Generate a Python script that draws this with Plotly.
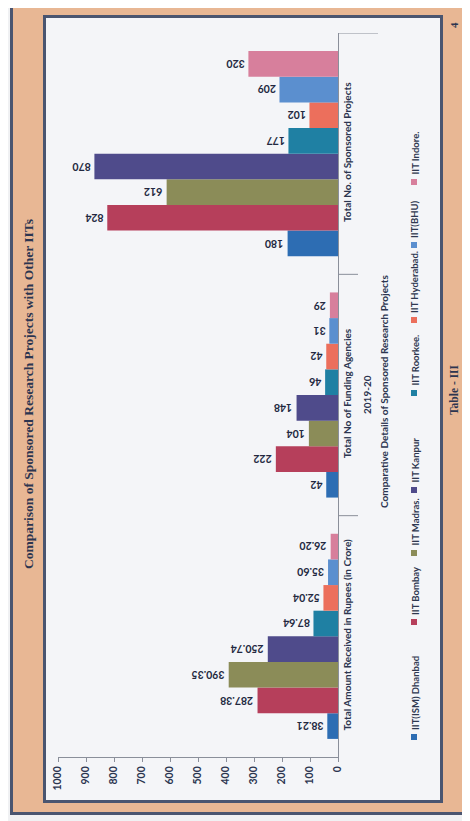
import plotly.graph_objects as go

# ---------------- data ----------------
categories = [
    "Total Amount Received in Rupees (in Crore)",
    "Total No of Funding Agencies",
    "Total No. of Sponsored Projects",
]
institutes = ["IIT(ISM) Dhanbad", "IIT Bombay", "IIT Madras.", "IIT Kanpur",
              "IIT Roorkee.", "IIT Hyderabad.", "IIT(BHU)", "IIT Indore."]
dhanbad = [38.21, 42, 180]
bombay = [287.38, 222, 824]
madras = [390.35, 104, 612]
kanpur = [250.74, 148, 870]
roorkee = [87.64, 46, 177]
hyderabad = [52.04, 42, 102]
bhu = [35.60, 31, 209]
indore = [26.20, 29, 320]
series = [dhanbad, bombay, madras, kanpur, roorkee, hyderabad, bhu, indore]
value_ticks = [0, 100, 200, 300, 400, 500, 600, 700, 800, 900, 1000]

colors = ["#2d6db3", "#b63f5b", "#8b8c58", "#4f4b8b", "#1f80a3",
          "#ec6f5c", "#5b8fcf", "#d77f9c"]

# ---------------- geometry helpers (page pixel -> paper) ----------------
PAGE_W, PAGE_H = 470, 821
OFF = 8                       # default body margin of the html page
FW, FH = PAGE_W - OFF, PAGE_H - OFF
L, R, T, B = 58, 338, 33, 757  # plot area in page pixels
W, H = R - L, B - T


def px(x):
    return (x - L) / W


def py(y):
    return (B - y) / H


BARGAP = 0.15
NS = len(series)

fig = go.Figure()
for name, vals, col in zip(institutes, series, colors):
    fig.add_trace(go.Bar(
        y=categories, x=vals, name=name, orientation="h",
        marker=dict(color=col, line=dict(width=0)),
        showlegend=False, hoverinfo="x+name",
    ))

LABEL_FONT = dict(family="Lato, sans-serif", size=10.5, color="#222840", weight="bold")

# data labels (upside-down, as in the scanned page)
bw = (1 - BARGAP) / NS
for i, vals in enumerate(series):
    for ci, v in enumerate(vals):
        txt = f"{v:.2f}" if ci == 0 else f"{v:.0f}"
        yc = ci - (1 - BARGAP) / 2 + bw * (i + 0.5)
        fig.add_annotation(
            x=v, y=yc, xref="x", yref="y", text=txt, showarrow=False,
            textangle=180, xanchor="right", yanchor="middle", xshift=-2,
            font=LABEL_FONT,
        )

shapes = []


def rect(x0, y0, x1, y1, color):
    shapes.append(dict(type="rect", xref="paper", yref="paper",
                       x0=px(x0), x1=px(x1), y0=py(y0), y1=py(y1),
                       fillcolor=color, line=dict(width=0), layer="below"))


DARK = "#4a5570"
PEACH = "#e8b794"
rect(10, 2, 467, 815, DARK)
rect(13, 5, 464, 812, PEACH)
rect(43, 15, 443, 803, DARK)
rect(46, 18, 440, 800, "#f4f5f8")

# category separators on the category axis
for yb, ln in [(0.5, 20), (1.5, 20), (2.5, 40)]:
    shapes.append(dict(type="line", xref="paper", yref="y",
                       x0=1, x1=px(R + ln), y0=yb, y1=yb,
                       line=dict(color="#8a8f9a", width=1)))

# custom rotated legend
leg_x = 414
leg_marker_y = [737, 622, 553, 490, 393, 320, 245, 182]
for name, col, my in zip(institutes, colors, leg_marker_y):
    rect(leg_x - 3, my + 3, leg_x + 3, my - 3, col)
    fig.add_annotation(x=px(leg_x + 1), y=py(my - 5), xref="paper", yref="paper",
                       text=name, showarrow=False, textangle=-90,
                       xanchor="center", yanchor="bottom",
                       font=dict(family="Lato, sans-serif", size=9.5, color="#2f3850", weight="bold"))

TXT = "#2c3550"
fig.add_annotation(x=px(28), y=py(394), xref="paper", yref="paper",
                   text="Comparison of Sponsored Research Projects with Other IITs",
                   showarrow=False, textangle=-90, xanchor="center", yanchor="middle",
                   font=dict(family="Liberation Serif, serif", size=13.5, color=TXT, weight="bold"))
fig.add_annotation(x=px(454), y=py(390), xref="paper", yref="paper",
                   text="Table - III", showarrow=False, textangle=-90,
                   xanchor="center", yanchor="middle",
                   font=dict(family="Liberation Serif, serif", size=11.5, color=TXT, weight="bold"))
fig.add_annotation(x=px(454), y=py(25), xref="paper", yref="paper",
                   text="4", showarrow=False, textangle=-90,
                   xanchor="center", yanchor="middle",
                   font=dict(family="Liberation Serif, serif", size=11, color=TXT, weight="bold"))
fig.add_annotation(x=px(367), y=py(395), xref="paper", yref="paper",
                   text="2019-20", showarrow=False, textangle=-90,
                   xanchor="center", yanchor="middle",
                   font=dict(family="Lato, sans-serif", size=10, color=TXT, weight="bold"))
fig.add_annotation(x=px(384), y=py(391), xref="paper", yref="paper",
                   text="Comparative Details of Sponsored Research Projects", showarrow=False,
                   textangle=-90, xanchor="center", yanchor="middle",
                   font=dict(family="Lato, sans-serif", size=10, color=TXT, weight="bold"))

fig.update_layout(
    width=FW, height=FH,
    margin=dict(l=L - OFF, r=PAGE_W - R, t=T - OFF, b=PAGE_H - B, pad=0),
    paper_bgcolor="#f0f1f3", plot_bgcolor="rgba(0,0,0,0)",
    barmode="group", bargap=BARGAP, bargroupgap=0,
    showlegend=False, shapes=shapes,
    xaxis=dict(range=[1000, 0], tickvals=value_ticks, ticks="outside", ticklen=4,
               tickcolor="#8a8f9a", tickangle=-90, showline=True, linecolor="#8a8f9a",
               showgrid=False, zeroline=False,
               tickfont=dict(family="Lato, sans-serif", size=10.5, color=TXT, weight="bold")),
    yaxis=dict(type="category", categoryorder="array", categoryarray=categories,
               range=[-0.5, 2.5], side="right", showline=True, linecolor="#8a8f9a",
               ticks="", tickangle=-90, showgrid=False, zeroline=False,
               tickfont=dict(family="Lato, sans-serif", size=10, color=TXT, weight="bold")),
)

fig.write_html("out.html")
